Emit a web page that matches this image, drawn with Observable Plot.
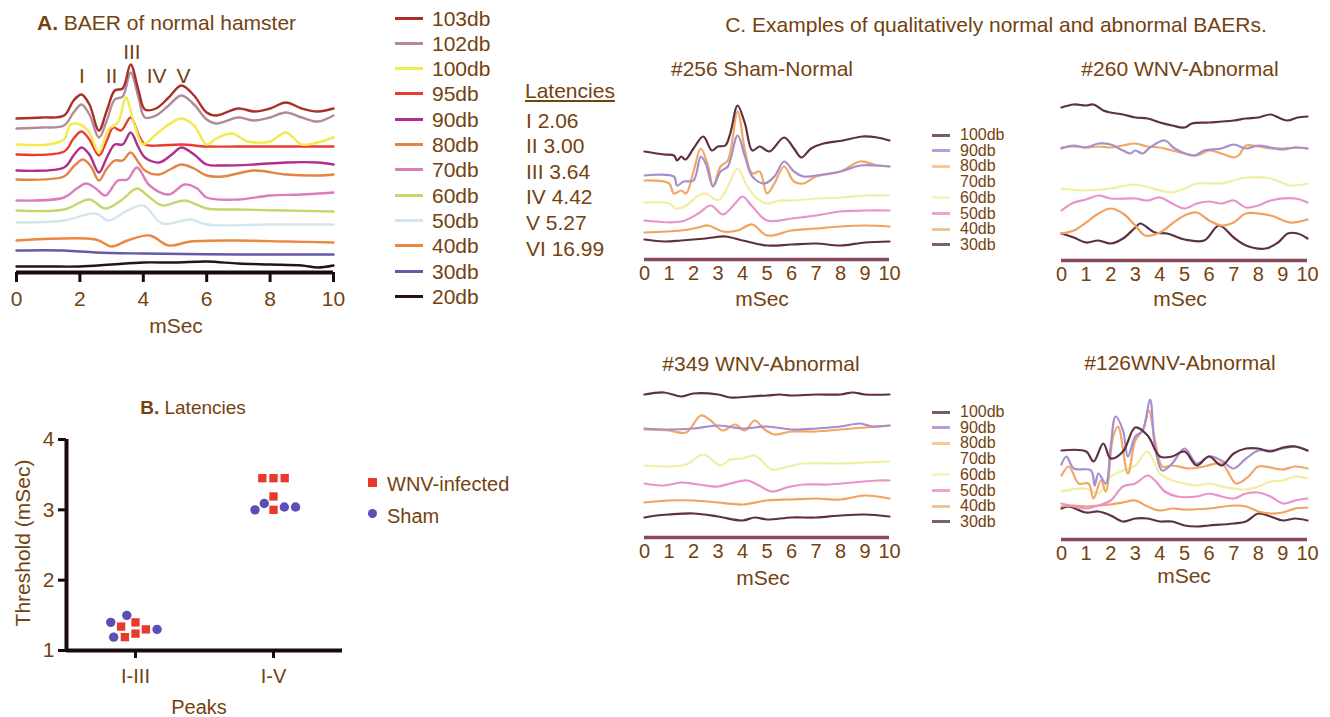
<!DOCTYPE html>
<html><head><meta charset="utf-8">
<script src="https://cdn.jsdelivr.net/npm/d3@7"></script>
<script src="https://cdn.jsdelivr.net/npm/@observablehq/plot@0.6"></script>
<style>
body{margin:0;background:#fff;}
#root{position:relative;width:1330px;height:717px;overflow:hidden;font-family:"Liberation Sans",Arial,sans-serif;color:#74420f;}
.t{position:absolute;white-space:nowrap;}
.sw{position:absolute;}
</style></head><body><div id="root"></div><script>
// ---------- Panel A data: BAER of normal hamster (amplitude units, x in mSec) ----------
const a103 = [[0,154],[0.8,155],[1.5,157],[1.8,172],[2.05,178],[2.3,168],[2.6,142],[2.85,162],[3.1,182],[3.35,184],[3.6,208],[3.85,182],[4.05,163],[4.4,164],[4.8,175],[5.2,187],[5.6,177],[6.0,160],[6.3,157],[7.0,164],[7.5,161],[8.0,164],[8.5,170],[9.0,164],[9.5,161],[10,164]];
const a102 = [[0,144],[0.8,145],[1.5,147],[1.8,160],[2.05,168],[2.3,158],[2.6,135],[2.85,152],[3.1,173],[3.35,176],[3.6,200],[3.85,175],[4.05,155],[4.4,157],[4.8,167],[5.2,177],[5.6,168],[6.0,153],[6.3,149],[7.0,155],[7.5,152],[8.0,155],[8.5,160],[9.0,155],[9.5,151],[10,157]];
const a100 = [[0,128],[1.0,128],[1.5,133],[1.7,148],[2.0,148],[2.3,140],[2.6,120],[2.9,143],[3.2,150],[3.45,175],[3.7,150],[4.0,128],[4.4,138],[4.8,148],[5.2,154],[5.6,147],[6.0,128],[6.3,134],[6.8,139],[7.3,131],[8.0,131],[8.5,140],[9.0,128],[9.5,130],[10,135]];
const a95 = [[0,118],[1.5,121],[1.8,134],[2.05,141],[2.3,133],[2.6,117],[2.85,132],[3.05,145],[3.3,142],[3.6,155],[3.85,138],[4.05,128],[4.5,127],[5.2,128],[6,126],[7,126],[8,126],[9,126],[10,126]];
const a90 = [[0,102],[1.5,105],[1.8,117],[2.05,125],[2.3,118],[2.6,100],[2.85,115],[3.1,128],[3.35,128],[3.6,140],[3.85,125],[4.05,115],[4.5,110],[4.9,118],[5.2,125],[5.6,118],[6.0,108],[6.5,107],[7.5,108],[8.5,110],[9.5,110],[10,108]];
const a80 = [[0,93],[1.5,96],[1.8,106],[2.1,113],[2.35,106],[2.6,92],[2.85,104],[3.1,112],[3.35,112],[3.6,120],[3.85,110],[4.05,102],[4.5,98],[4.9,104],[5.2,108],[5.6,104],[6.0,97],[6.5,96],[7.5,102],[8.5,98],[9.5,97],[10,98]];
const a70 = [[0,72],[1.5,75],[1.9,84],[2.2,89],[2.5,84],[2.8,77],[3.2,92],[3.5,93],[3.8,105],[4.2,87],[4.8,78],[5.3,88],[5.7,84],[6.0,75],[7,73],[8,77],[9,78],[10,80]];
const a60 = [[0,62],[1.5,63],[2.3,73],[2.8,64],[3.3,72],[3.8,84],[4.2,75],[4.6,67],[5.3,72],[6.0,64],[7,63],[8.5,62],[10,61]];
const a50 = [[0,50],[1.5,52],[2.5,59],[2.9,52],[3.5,62],[4.0,67],[4.6,49],[5.5,53],[6.0,48],[8,48],[10,48]];
const a40 = [[0,32],[2.5,33],[3.0,26],[3.5,32],[4.2,37],[4.8,27],[5.5,31],[7,32],[8.5,31],[10,30]];
const a30 = [[0,22],[1.5,22],[2.5,20],[4,19],[7,18],[10,18]];
const a20 = [[0,6],[1,6],[2,6],[3,8],[4,10],[5,10],[6,11],[7,9],[8,8],[9,7],[9.5,5],[10,7]];
const aLevels = ["103db","102db","100db","95db","90db","80db","70db","60db","50db","40db","30db","20db"];
const aColors = ["#a9302a","#b38a99","#f3ea4c","#e83c31","#b02e8c","#e08642","#dc7cbc","#c4d76c","#d3e6ee","#ec8740","#6659aa","#2a1212"];
const aTicks = [0,2,4,6,8,10];
const peakNames = ["I","II","III","IV","V","VI"];
const latencies = [2.06,3.00,3.64,4.42,5.27,16.99];

// ---------- Panel B data: latencies ----------
const peaks = ["I-III","I-V"];
const groups = ["WNV-infected","Sham"];
const wnvI_III = [1.40,1.24,1.19,1.30,1.34];
const shamI_III = [1.30,1.40,1.50,1.19];
const wnvI_V = [3.45,3.45,3.45,3.19,3.00];
const shamI_V = [3.09,3.04,3.00,3.04];
const bTicks = [1,2,3,4];
const bColors = ["#e8392c","#5a4fb5"];

// ---------- Panel C data ----------
const cLevels = ["100db","90db","80db","60db","50db","40db","30db"];
const cColors = ["#5e3040","#a68fcc","#f0a866","#f1eea2","#e893c9","#f0a260","#5e3040"];
const cLegendLevels = ["100db","90db","80db","70db","60db","50db","40db","30db"];
const cLegendColors = ["#7a5a68","#b99bd8","#f5c898","#ffffff","#faf2c2","#eaa2d8","#e8c898","#7a6070"];
const cTicks = [0,1,2,3,4,5,6,7,8,9,10];

const c256_100 = [[0,108],[0.8,105],[1.2,104],[1.33,99],[1.5,103],[1.67,100],[2.0,111],[2.4,123],[2.75,109],[3.0,113],[3.3,114],[3.5,126],[3.8,154],[4.1,136],[4.4,109],[4.7,113],[5.1,108],[5.7,122],[6.1,111],[6.4,102],[6.8,111],[7.3,116],[8.1,119],[8.9,123],[9.5,122],[10,119]];
const c256_90 = [[0,84],[1.2,83],[1.33,74],[1.6,78],[2.0,79],[2.3,103],[2.5,96],[2.8,73],[3.1,88],[3.4,93],[3.8,124],[4.1,103],[4.4,83],[4.9,76],[5.3,83],[5.7,98],[6.1,88],[6.5,83],[7,84],[8,88],[8.8,94],[9.5,94],[10,93]];
const c256_80 = [[0,79],[1.0,76],[1.2,66],[1.5,69],[1.7,66],[2.0,88],[2.3,111],[2.6,93],[2.8,73],[3.1,93],[3.4,99],[3.8,148],[4.1,109],[4.4,86],[4.7,88],[5.0,66],[5.3,76],[5.7,93],[6.1,78],[6.5,76],[7,83],[8,88],[8.8,98],[9.5,94],[10,93]];
const c256_60 = [[0,57],[1.0,56],[1.3,51],[1.7,54],[2.2,64],[2.5,66],[3.0,59],[3.4,73],[3.8,91],[4.2,73],[4.6,61],[5,56],[5.5,59],[6,59],[7,61],[8,62],[9,64],[10,64]];
const c256_50 = [[0,39],[1.5,38],[2.2,46],[2.7,54],[3.2,45],[3.7,56],[4.0,63],[4.4,53],[5.0,39],[6,41],[7,44],[8,48],[9,49],[10,49]];
const c256_40 = [[0,27],[1.5,29],[2.2,32],[2.6,34],[3.2,28],[3.8,29],[4.4,35],[5,24],[6,29],[7,31],[8,33],[9,34],[10,33]];
const c256_30 = [[0,20],[0.8,18],[1.5,19],[2.5,21],[3.3,23],[4,19],[5,14],[6,15],[7,16],[8,14],[9,17],[10,18]];

const c260_100 = [[0,153],[0.5,156],[1,155],[1.3,156],[1.7,150],[2,148],[2.5,146],[3,143],[3.5,142],[4,138],[4.5,135],[5,133],[5.3,137],[6,138],[7,140],[7.5,142],[8,143],[8.5,146],[8.9,142],[9.2,140],[9.6,143],[10,144]];
const c260_90 = [[0,112],[0.5,115],[1,113],[1.5,117],[2,116],[2.5,110],[2.8,107],[3,110],[3.3,107],[3.6,113],[4.2,120],[4.6,112],[5.4,105],[5.8,110],[6.5,112],[7,116],[7.5,112],[8,115],[8.5,113],[9,111],[9.5,113],[10,112]];
const c260_80 = [[0,113],[0.5,114],[1,113],[1.5,114],[2,113],[2.5,115],[3,117],[3.5,114],[4,113],[4.5,110],[5,107],[5.5,105],[6,110],[6.5,107],[7,103],[7.2,105],[7.5,115],[8,114],[8.5,112],[9,112],[9.5,113],[10,112]];
const c260_60 = [[0,72],[1,70],[2,72],[3,76],[4,70],[4.5,68],[5,72],[5.5,77],[6.5,77],[7.5,83],[8.5,82],[9.3,75],[10,77]];
const c260_50 = [[0,50],[0.5,58],[1,61],[1.5,65],[2,62],[3,62],[3.5,60],[4,63],[4.5,57],[5,52],[5.5,57],[6,59],[6.5,57],[7,60],[7.5,53],[8,55],[8.5,60],[9.5,62],[10,58]];
const c260_40 = [[0,27],[0.5,30],[1,38],[1.5,47],[2,52],[2.5,47],[3,35],[3.4,25],[4,28],[4.5,37],[5,45],[5.5,48],[6,40],[6.5,35],[7,38],[7.5,47],[8.5,45],[9.3,38],[10,41]];
const c260_30 = [[0,27],[0.5,23],[1,18],[1.5,20],[2,17],[2.5,22],[3,33],[3.2,37],[3.8,28],[4.3,27],[5,21],[5.8,20],[6.4,35],[7,23],[7.5,15],[8.3,12],[8.8,18],[9.2,27],[9.6,27],[10,22]];

const c349_100 = [[0,143],[0.8,145],[1.5,141],[2,144],[3,143],[3.5,140],[4.3,141],[5,142],[5.5,143],[6,142],[7,143],[8,143],[8.5,145],[9,143],[10,143]];
const c349_90 = [[0,109],[1,108],[2,109],[3,112],[4,109],[5,111],[6,108],[7,109],[8,111],[8.8,114],[9.3,111],[10,112]];
const c349_80 = [[0,108],[1,107],[1.7,105],[2.3,122],[2.7,117],[3.2,107],[3.7,113],[4.1,107],[4.5,117],[4.9,108],[5.3,103],[6,106],[7,106],[8,108],[9,110],[10,112]];
const c349_60 = [[0,72],[1,71],[1.7,73],[2.4,83],[3.1,72],[3.5,78],[4,79],[4.5,82],[5.2,68],[5.7,70],[6.5,74],[8,74],[9,75],[10,76]];
const c349_50 = [[0,54],[0.8,52],[1.5,55],[2.2,53],[3,51],[3.5,54],[4.2,57],[4.6,53],[5.2,46],[5.8,50],[6.5,53],[7.5,53],[8.5,55],[9.5,57],[10,57]];
const c349_40 = [[0,35],[1,37],[2,37],[3,35],[4,33],[5,37],[6,38],[7,39],[8,38],[9,42],[10,39]];
const c349_30 = [[0,20],[0.5,22],[1,23],[2,24],[3,21],[4,17],[4.5,20],[5,18],[6,20],[7,20],[8,22],[9,23],[10,21]];

const c126_100 = [[0,89],[1,88],[1.3,78],[1.7,96],[2,81],[2.5,88],[3,112],[3.5,104],[4,83],[4.5,83],[5,88],[5.5,74],[6,83],[6.5,74],[7,86],[7.5,91],[8,91],[8.5,88],[9,92],[9.5,93],[10,89]];
const c126_90 = [[0,75],[0.2,83],[0.5,71],[1.2,69],[1.35,54],[1.5,66],[1.8,56],[2.0,93],[2.2,123],[2.5,109],[2.7,83],[3.0,103],[3.3,109],[3.6,140],[3.8,93],[4.1,69],[4.5,76],[5.0,91],[5.5,76],[6,83],[6.5,79],[7,71],[7.5,81],[8,89],[8.5,89],[9,91],[9.5,93],[10,89]];
const c126_80 = [[0,64],[0.3,73],[0.7,56],[1.1,56],[1.3,41],[1.6,59],[1.8,48],[2.1,103],[2.3,113],[2.7,66],[3.0,99],[3.3,109],[3.55,129],[3.8,99],[4.1,73],[4.5,74],[5.2,71],[5.8,73],[6.5,76],[7.1,56],[7.6,63],[8,73],[9,70],[9.5,73],[10,71]];
const c126_60 = [[0,48],[1,51],[1.5,46],[2,63],[2.5,69],[3,74],[3.5,88],[4.0,66],[4.5,59],[5,56],[5.5,54],[6,56],[6.5,53],[7,51],[7.5,50],[8,53],[8.5,58],[9,59],[9.5,63],[10,61]];
const c126_50 = [[0,36],[0.5,33],[1,31],[1.5,34],[2,39],[2.5,53],[3,56],[3.5,64],[3.8,59],[4.2,48],[4.7,43],[5.5,43],[6,46],[6.5,43],[7,41],[7.5,46],[8,47],[8.5,43],[9,36],[9.5,39],[10,41]];
const c126_40 = [[0,33],[0.5,34],[1,33],[1.5,34],[2,35],[2.5,37],[3,39],[3.5,33],[4,29],[4.5,31],[5,30],[6,31],[7,34],[7.5,33],[8,28],[8.5,26],[9,27],[9.5,31],[10,32]];
const c126_30 = [[0,31],[0.3,33],[1,27],[1.5,28],[2,24],[2.5,18],[3,21],[3.5,21],[4,18],[4.5,18],[5,14],[5.5,13],[6,14],[7,16],[7.5,18],[8,26],[8.5,23],[9,19],[9.5,21],[10,19]];

// ---------- helpers ----------
const brown = "#74420f";
const black = "#1a0a0a";
const root = document.getElementById("root");
const FONT = "'Liberation Sans', Arial, sans-serif";

function txt(s, x, y, size, o = {}) {
  const d = document.createElement("div");
  d.className = "t";
  d.innerHTML = s;
  const lh = o.lineHeight || size;
  d.style.fontSize = size + "px";
  d.style.lineHeight = lh + "px";
  d.style.left = x + "px";
  d.style.top = (y - lh / 2) + "px";
  if (o.anchor === "middle") d.style.transform = "translateX(-50%)";
  if (o.rotate) { d.style.top = y + "px"; d.style.transform = "translate(-50%,-50%) rotate(-90deg)"; }
  if (o.underline) d.style.textDecoration = "underline";
  root.appendChild(d);
}
function swatch(x, y, w, color, h = 3, round = false) {
  const d = document.createElement("div");
  d.className = "sw";
  d.style.left = x + "px"; d.style.top = (y - h / 2) + "px";
  d.style.width = w + "px"; d.style.height = h + "px";
  d.style.background = color;
  if (round) d.style.borderRadius = "50%";
  root.appendChild(d);
}
function place(svg, left, top) {
  svg.style.position = "absolute";
  svg.style.left = left + "px";
  svg.style.top = top + "px";
  root.appendChild(svg);
}
function rowsOf(traces, levels) {
  const out = [];
  traces.forEach((t, i) => t.forEach(([x, y]) => out.push({db: levels[i], x, y})));
  return out;
}

// ---------- Panel A ----------
{
  const mL = 16, mR = 19, mT = 42, yMax = 230, mB = 38;
  const traces = [a20, a30, a40, a50, a60, a70, a80, a90, a95, a100, a102, a103];
  const levels = aLevels.slice().reverse();
  const rows = rowsOf(traces, levels);
  const labs = peakNames.slice(0, 5).map((n, i) => ({n, x: latencies[i]}));
  const svg = Plot.plot({
    width: 317 + mL + mR, height: mT + yMax + mB,
    marginLeft: mL, marginRight: mR, marginTop: mT, marginBottom: mB,
    style: {fontFamily: FONT, color: brown, background: "transparent", overflow: "visible"},
    x: {domain: [0, 10]}, y: {domain: [0, yMax], axis: null},
    color: {domain: aLevels, range: aColors},
    marks: [
      Plot.line(rows, {x: "x", y: "y", z: "db", stroke: "db", strokeWidth: 2.4, curve: "catmull-rom"}),
      Plot.ruleY([0], {stroke: black, strokeWidth: 4}),
      Plot.axisX({ticks: aTicks, tickSize: 10, tickPadding: 9, stroke: black, strokeWidth: 3, fontSize: 21, label: null, tickFormat: d => d}),
      Plot.text(labs.filter(d => d.n !== "III"), {x: "x", y: 196, text: "n", fontSize: 21, fill: brown}),
      Plot.text(labs.filter(d => d.n === "III"), {x: "x", y: 220, text: "n", fontSize: 21, fill: brown})
    ]
  });
  place(svg, 0, 0);
  txt("<b>A.</b> BAER of normal hamster", 37, 22, 21);
  txt("mSec", 176, 325, 21, {anchor: "middle"});
  aLevels.forEach((l, i) => {
    const y = 18 + 25.3 * i;
    swatch(395, y, 28, aColors[i], 3);
    txt(l, 432, y, 21);
  });
  txt("Latencies", 525, 90, 21, {underline: true});
  peakNames.forEach((n, i) => txt(n + " " + latencies[i].toFixed(2), 526, 120 + 25.6 * i, 21));
}

// ---------- Panel B ----------
{
  const bData = [];
  wnvI_III.forEach(v => bData.push({peak: "I-III", group: "WNV-infected", v}));
  shamI_III.forEach(v => bData.push({peak: "I-III", group: "Sham", v}));
  wnvI_V.forEach(v => bData.push({peak: "I-V", group: "WNV-infected", v}));
  shamI_V.forEach(v => bData.push({peak: "I-V", group: "Sham", v}));
  const svg = Plot.plot({
    width: 360, height: 290, marginLeft: 66, marginRight: 18, marginTop: 39, marginBottom: 40,
    style: {fontFamily: FONT, color: brown, background: "transparent", overflow: "visible"},
    fx: {domain: peaks, paddingInner: 0, paddingOuter: 0, label: null},
    x: {domain: [0, 1], axis: null},
    y: {domain: [1, 4], axis: null},
    color: {domain: groups, range: bColors},
    symbol: {domain: groups, range: ["square", "circle"]},
    marks: [
      Plot.ruleY([1], {stroke: black, strokeWidth: 4}),
      Plot.ruleX([{p: "I-III"}], {fx: "p", x: () => 0, y1: 1, y2: 4, stroke: black, strokeWidth: 4}),
      Plot.axisY({ticks: bTicks, tickSize: 8, tickPadding: 4, stroke: black, strokeWidth: 3, fontSize: 21, label: null, tickFormat: d => d}),
      Plot.axisFx({anchor: "bottom", tickSize: 8, tickPadding: 10, stroke: black, strokeWidth: 3, fontSize: 20, label: null}),
      Plot.dot(bData, Plot.dodgeX({anchor: "middle", padding: 1.8}, {fx: "peak", y: "v", r: 4.7, symbol: "group", fill: "group", stroke: "none"}))
    ]
  });
  place(svg, 0, 400);
  txt("<b>B.</b> Latencies", 193, 407, 19, {anchor: "middle"});
  txt("Threshold (mSec)", 22, 543, 21, {rotate: true});
  txt("Peaks", 199, 707, 20, {anchor: "middle"});
  swatch(368, 482, 9, bColors[0], 9);
  swatch(368, 513, 9, bColors[1], 9, true);
  txt(groups[0], 387, 484, 20);
  txt(groups[1], 387, 516, 20);
}

// ---------- Panel C ----------
function cPanel(traces, x0, x10, axisY) {
  const mL = 14, mR = 16, mT = 10, yMax = 160, mB = 40;
  const order = [6, 5, 4, 3, 2, 1, 0];
  const rows = rowsOf(order.map(i => traces[i]), order.map(i => cLevels[i]));
  const svg = Plot.plot({
    width: (x10 - x0) + mL + mR, height: mT + yMax + mB,
    marginLeft: mL, marginRight: mR, marginTop: mT, marginBottom: mB,
    style: {fontFamily: FONT, color: brown, background: "transparent", overflow: "visible"},
    x: {domain: [0, 10]}, y: {domain: [0, yMax], axis: null},
    color: {domain: cLevels, range: cColors},
    marks: [
      Plot.line(rows, {x: "x", y: "y", z: "db", stroke: "db", strokeWidth: 2.2, curve: "catmull-rom"}),
      Plot.ruleY([0], {stroke: "#8a4a5c", strokeWidth: 3.5}),
      Plot.axisX({ticks: cTicks, tickSize: 0, tickPadding: 6, fontSize: 20, label: null, tickFormat: d => d})
    ]
  });
  place(svg, x0 - mL, axisY - mT - yMax);
}
cPanel([c256_100, c256_90, c256_80, c256_60, c256_50, c256_40, c256_30], 644, 889, 259);
cPanel([c260_100, c260_90, c260_80, c260_60, c260_50, c260_40, c260_30], 1061, 1307, 260);
cPanel([c349_100, c349_90, c349_80, c349_60, c349_50, c349_40, c349_30], 644, 889, 537);
cPanel([c126_100, c126_90, c126_80, c126_60, c126_50, c126_40, c126_30], 1061, 1307, 539);

txt("C. Examples of qualitatively normal and abnormal BAERs.", 996, 24, 21, {anchor: "middle"});
txt("#256 Sham-Normal", 762, 68, 21, {anchor: "middle"});
txt("#260 WNV-Abnormal", 1180, 68, 21, {anchor: "middle"});
txt("#349 WNV-Abnormal", 761, 363, 21, {anchor: "middle"});
txt("#126WNV-Abnormal", 1180, 362, 21, {anchor: "middle"});
txt("mSec", 762, 298, 21, {anchor: "middle"});
txt("mSec", 1180, 298, 21, {anchor: "middle"});
txt("mSec", 763, 577, 21, {anchor: "middle"});
txt("mSec", 1184, 575, 21, {anchor: "middle"});
[135, 412].forEach(y0 => {
  cLegendLevels.forEach((l, i) => {
    const y = y0 + 15.7 * i;
    swatch(932, y, 18, cLegendColors[i], 3);
    txt(l, 960, y, 16, {lineHeight: 14});
  });
});
</script></body></html>
